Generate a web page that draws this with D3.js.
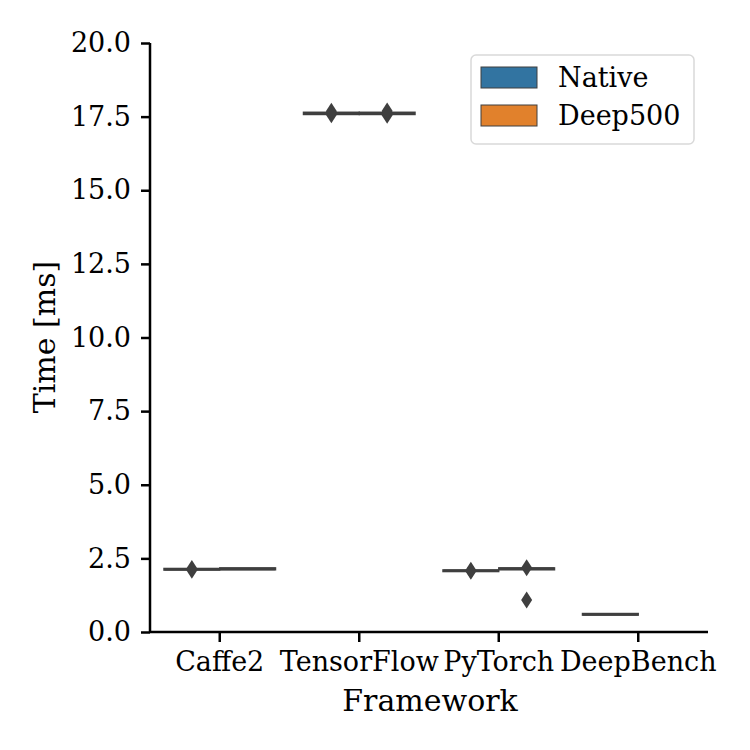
<!DOCTYPE html>
<html>
<head>
<meta charset="utf-8">
<script src="https://cdn.jsdelivr.net/npm/d3@7"></script>
<style>
  body { margin: 0; background: #fff; }
  text { font-family: "DejaVu Serif", serif; fill: #000; }
</style>
</head>
<body>
<svg id="canvas"></svg>
<script>
var width = 750,
	height = 750;

// data
var frameworks = ["Caffe2", "TensorFlow", "PyTorch", "DeepBench"];
var hues = ["Native", "Deep500"];
var hueColors = ["#3274a1", "#e1812c"];
var yTicks = [0, 2.5, 5, 7.5, 10, 12.5, 15, 17.5, 20];

// [q1, median, q3] per framework
var nativeBox = [[2.12, 2.13, 2.14], [17.59, 17.61, 17.63], [2.07, 2.08, 2.09], [0.59, 0.60, 0.61]];
var deep500Box = [[2.13, 2.14, 2.16], [17.59, 17.61, 17.63], [2.13, 2.15, 2.16], null];
var nativeFliers = [[2.10, 2.16], [17.56, 17.68], [2.06, 2.10], []];
var deep500Fliers = [[], [17.55, 17.62, 17.69], [2.18, 1.09], []];

var svg = d3.select("#canvas")
	.attr("width", width)
	.attr("height", height);

var x = d3.scaleBand()
	.domain(frameworks)
	.range([150, 708]);

var hueX = d3.scaleBand()
	.domain(hues)
	.range([x.bandwidth() * 0.1, x.bandwidth() * 0.9]);

var y = d3.scaleLinear()
	.domain([0, 20])
	.range([632, 43]);

var lineColor = "#3f3f3f";

var groups = [];
frameworks.forEach(function(f, i){
	[nativeBox, deep500Box].forEach(function(arr, h){
		if (arr[i]) groups.push({f: f, h: h, box: arr[i], fliers: (h == 0 ? nativeFliers : deep500Fliers)[i]});
	});
});

var g = svg.selectAll("g.box")
	.data(groups)
	.enter()
	.append("g")
	.attr("class", "box")
	.attr("transform", function(d){
		return "translate(" + (x(d.f) + hueX(hues[d.h])) + ",0)";
	});

var bw = hueX.bandwidth();

g.append("rect")
	.attr("x", bw * 0.01)
	.attr("width", bw * 0.98)
	.attr("y", function(d){ return y(d.box[2]); })
	.attr("height", function(d){ return y(d.box[0]) - y(d.box[2]); })
	.attr("fill", function(d){ return hueColors[d.h]; })
	.attr("stroke", lineColor)
	.attr("stroke-width", 2.5);

g.append("line")
	.attr("x1", bw * 0.01)
	.attr("x2", bw * 0.99)
	.attr("y1", function(d){ return y(d.box[1]); })
	.attr("y2", function(d){ return y(d.box[1]); })
	.attr("stroke", lineColor)
	.attr("stroke-width", 2.5);

g.selectAll("path.flier")
	.data(function(d){ return d.fliers; })
	.enter()
	.append("path")
	.attr("class", "flier")
	.attr("d", function(v){
		var cx = bw / 2, cy = y(v);
		return "M" + cx + "," + (cy - 8.5) + "L" + (cx + 5.5) + "," + cy + "L" + cx + "," + (cy + 8.5) + "L" + (cx - 5.5) + "," + cy + "Z";
	})
	.attr("fill", lineColor);

// axes
var yAxis = svg.append("g")
	.attr("transform", "translate(150,0)")
	.call(d3.axisLeft(y).tickValues(yTicks).tickFormat(d3.format(".1f")).tickSize(9).tickPadding(10));

var xAxis = svg.append("g")
	.attr("transform", "translate(0,632)")
	.call(d3.axisBottom(x).tickSize(10).tickPadding(10));

[yAxis, xAxis].forEach(function(a){
	a.select(".domain").attr("stroke", "#000").attr("stroke-width", 2.5);
	a.selectAll(".tick line").attr("stroke", "#000").attr("stroke-width", 2.5);
	a.selectAll(".tick text").attr("font-size", 27).attr("font-family", "DejaVu Serif").attr("fill", "#000");
});
xAxis.select(".domain").attr("d", "M150,0H708");
yAxis.select(".domain").attr("d", "M0,632V43");

svg.append("text")
	.attr("x", 430)
	.attr("y", 711)
	.attr("text-anchor", "middle")
	.attr("font-size", 30)
	.text("Framework");

svg.append("text")
	.attr("transform", "translate(55,337) rotate(-90)")
	.attr("text-anchor", "middle")
	.attr("font-size", 30)
	.text("Time [ms]");

// legend
var legend = svg.append("g");
legend.append("rect")
	.attr("x", 471).attr("y", 55)
	.attr("width", 223).attr("height", 89)
	.attr("rx", 5)
	.attr("fill", "#fff")
	.attr("stroke", "#d9d9d9")
	.attr("stroke-width", 1.5);

var item = legend.selectAll("g.item")
	.data(hues)
	.enter()
	.append("g")
	.attr("transform", function(d, i){ return "translate(481," + (67 + i * 38) + ")"; });

item.append("rect")
	.attr("width", 56).attr("height", 21)
	.attr("fill", function(d, i){ return hueColors[i]; })
	.attr("stroke", lineColor)
	.attr("stroke-width", 1);

item.append("text")
	.attr("x", 77).attr("y", 20)
	.attr("font-size", 27)
	.text(function(d){ return d; });
</script>
</body>
</html>
